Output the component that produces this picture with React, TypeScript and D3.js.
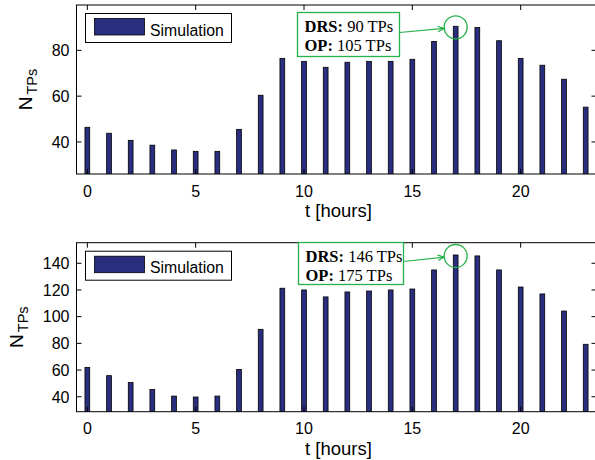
import React from "react";
import * as d3 from "d3";

const hours = d3.range(0, 24);
const topValues = [46.4, 43.8, 40.7, 38.6, 36.5, 35.9, 35.9, 45.5, 60.4, 76.5, 75.2, 72.6, 74.8, 75.2, 75.2, 76.1, 83.9, 90.5, 90.0, 84.2, 76.5, 73.5, 67.4, 55.2];
const bottomValues = [62.0, 55.8, 50.6, 45.5, 40.5, 39.8, 40.5, 60.5, 90.5, 121.3, 120.0, 114.8, 118.5, 119.2, 120.0, 120.7, 135.0, 146.2, 145.5, 135.0, 122.2, 117.0, 104.2, 79.3];
const xTicks = [0, 5, 10, 15, 20];
const topYTicks = [40, 60, 80];
const bottomYTicks = [40, 60, 80, 100, 120, 140];
const topDomain = [26, 99.8];
const bottomDomain = [28.8, 155.4];
const legendLabel = "Simulation";
const xLabel = "t [hours]";
const topNote = { drs: "90 TPs", op: "105 TPs", hour: 17 };
const bottomNote = { drs: "146 TPs", op: "175 TPs", hour: 17 };

const GREEN = "#27b14a";
const BAR = "#2a2e7e";
const SANS = "Liberation Sans, Arial, Helvetica, sans-serif";
const SERIF = "Liberation Serif, Times New Roman, serif";

type PanelProps = {
  values: number[];
  domain: number[];
  yTicks: number[];
  top: number;
  bottom: number;
  ylabelX: number;
  note: { drs: string; op: string; hour: number };
  box: { x0: number; y0: number; x1: number; y1: number };
  id: string;
};

function Panel({ values, domain, yTicks, top, bottom, ylabelX, note, box, id }: PanelProps) {
  const left = 76.5;
  const right = 596.5;
  const x = d3.scaleLinear().domain([-0.5, 23.5]).range([left, right]);
  const y = d3.scaleLinear().domain(domain).range([bottom, top]);
  const bw = x(0.11) - x(-0.11);
  const tick = 5;

  const peak = values[note.hour];
  const cx = x(note.hour);
  const cy = y(peak) + 1;
  const r = 11.5;
  const ax0 = box.x1;
  const ay0 = (box.y0 + box.y1) / 2 - 2;
  const ang = Math.atan2(cy - ay0, cx - ax0);
  const ax1 = cx - r * Math.cos(ang);
  const ay1 = cy - r * Math.sin(ang);
  const ah = 7;
  const a1 = ang + Math.PI - 0.4;
  const a2 = ang + Math.PI + 0.4;

  return (
    <g>
      <defs>
        <clipPath id={id}>
          <rect x={left} y={top} width={right - left} height={bottom - top} />
        </clipPath>
      </defs>
      <rect x={left} y={top} width={right - left} height={bottom - top} fill="#fff" />
      <g clipPath={`url(#${id})`}>
        {values.map((v, i) => (
          <rect
            key={i}
            x={x(hours[i]) - bw / 2}
            y={y(v)}
            width={bw}
            height={bottom + 2 - y(v)}
            fill={BAR}
            stroke="#000"
            strokeWidth={0.8}
          />
        ))}
      </g>
      <rect x={left} y={top} width={right - left} height={bottom - top} fill="none" stroke="#000" strokeWidth={1} />
      {xTicks.map((t) => (
        <g key={t}>
          <line x1={x(t)} x2={x(t)} y1={bottom} y2={bottom - tick} stroke="#000" />
          <line x1={x(t)} x2={x(t)} y1={top} y2={top + tick} stroke="#000" />
          <text x={x(t)} y={bottom + 22.5} textAnchor="middle" fontFamily={SANS} fontSize={16}>
            {t}
          </text>
        </g>
      ))}
      {yTicks.map((t) => (
        <g key={t}>
          <line x1={left} x2={left + tick} y1={y(t)} y2={y(t)} stroke="#000" />
          <line x1={right} x2={right - tick} y1={y(t)} y2={y(t)} stroke="#000" />
          <text x={left - 7} y={y(t)} dy="0.36em" textAnchor="end" fontFamily={SANS} fontSize={16}>
            {t}
          </text>
        </g>
      ))}
      <text x={(left + right) / 2 + 2} y={bottom + 43} textAnchor="middle" fontFamily={SANS} fontSize={18.5}>
        {xLabel}
      </text>
      <text
        transform={`translate(${ylabelX},${(top + bottom) / 2}) rotate(-90)`}
        textAnchor="middle"
        fontFamily={SANS}
        fontSize={19}
      >
        N
        <tspan fontSize={14.5} dy={5} dx={2}>TPs</tspan>
      </text>
      <rect x={85.5} y={top + 8.5} width={146} height={29} fill="#fff" stroke="#000" strokeWidth={1} />
      <rect x={94.5} y={top + 13.5} width={50} height={16.5} fill={BAR} stroke="#000" strokeWidth={0.8} />
      <text x={150} y={top + 30.5} fontFamily={SANS} fontSize={15.8}>
        {legendLabel}
      </text>
      <rect x={box.x0} y={box.y0} width={box.x1 - box.x0} height={box.y1 - box.y0} fill="#fff" stroke={GREEN} strokeWidth={1.3} />
      <text x={box.x0 + 7} y={box.y0 + 19} fontFamily={SERIF} fontSize={16.5}>
        <tspan fontWeight="bold">DRS:</tspan> {note.drs}
      </text>
      <text x={box.x0 + 7} y={box.y0 + 38} fontFamily={SERIF} fontSize={16.5}>
        <tspan fontWeight="bold">OP:</tspan> {note.op}
      </text>
      <line x1={ax0} y1={ay0} x2={ax1} y2={ay1} stroke={GREEN} strokeWidth={1.2} />
      <path
        d={`M${ax1 + ah * Math.cos(a1)},${ay1 + ah * Math.sin(a1)} L${ax1},${ay1} L${ax1 + ah * Math.cos(a2)},${ay1 + ah * Math.sin(a2)}`}
        fill="none"
        stroke={GREEN}
        strokeWidth={1.2}
      />
      <circle cx={cx} cy={cy} r={r} fill="none" stroke={GREEN} strokeWidth={1.3} />
    </g>
  );
}

export default function App() {
  return (
    <svg
      width={595}
      height={460}
      style={{ position: "absolute", left: 0, top: 0, background: "#fff" }}
    >
      <rect width={595} height={460} fill="#fff" />
      <Panel
        id="clipTop"
        values={topValues}
        domain={topDomain}
        yTicks={topYTicks}
        top={5}
        bottom={174}
        ylabelX={32}
        note={topNote}
        box={{ x0: 297.5, y0: 12.5, x1: 399.5, y1: 56.5 }}
      />
      <Panel
        id="clipBottom"
        values={bottomValues}
        domain={bottomDomain}
        yTicks={bottomYTicks}
        top={242.7}
        bottom={411.7}
        ylabelX={23}
        note={bottomNote}
        box={{ x0: 298.5, y0: 242.5, x1: 403.5, y1: 284.5 }}
      />
    </svg>
  );
}
